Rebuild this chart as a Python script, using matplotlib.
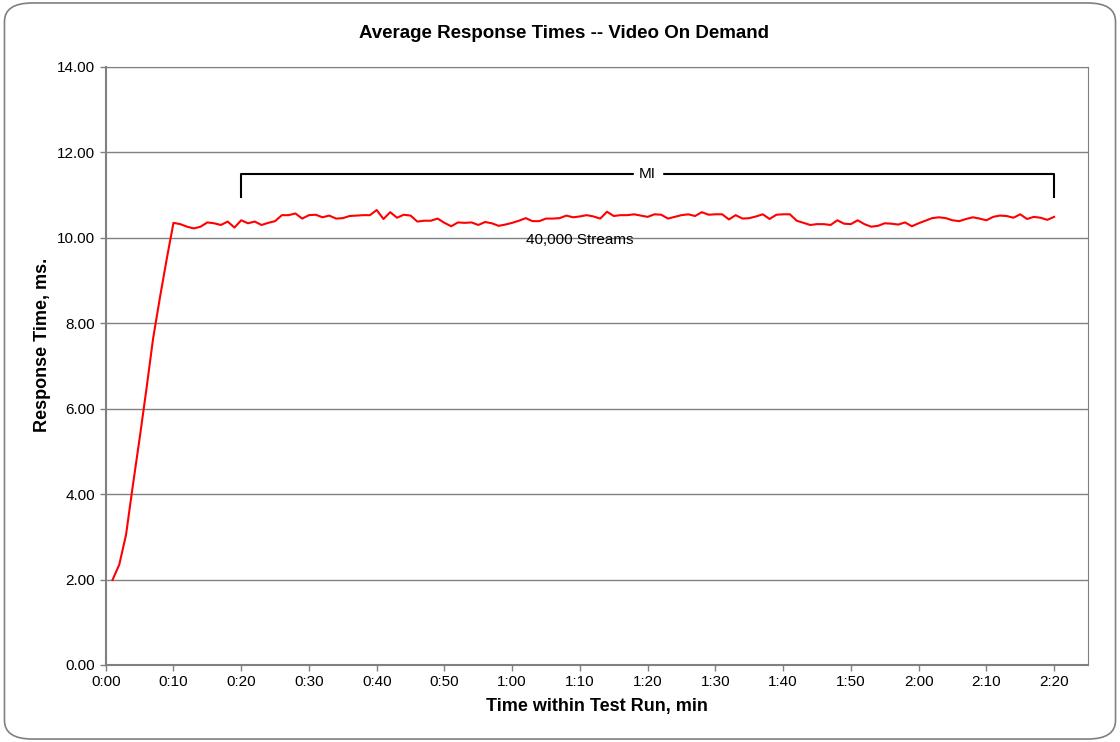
import numpy as np
import matplotlib.pyplot as plt
from matplotlib.patches import FancyBboxPatch

plt.rcParams['font.family'] = ['Liberation Sans', 'DejaVu Sans']

# Data: one sample per minute (t = 1..140)
minutes = np.arange(1, 141)
resp_ms = [
    1.99, 2.35, 3.05, 4.20, 5.30, 6.45, 7.65, 8.60, 9.50, 10.35,
    10.32, 10.26, 10.22, 10.26, 10.36, 10.34, 10.30, 10.38, 10.24, 10.41,
    10.34, 10.38, 10.30, 10.35, 10.39, 10.53, 10.53, 10.57, 10.45, 10.53,
    10.54, 10.48, 10.52, 10.45, 10.46, 10.51, 10.52, 10.53, 10.53, 10.65,
    10.44, 10.60, 10.47, 10.54, 10.52, 10.38, 10.40, 10.40, 10.45, 10.35,
    10.27, 10.36, 10.35, 10.36, 10.30, 10.37, 10.34, 10.28, 10.31, 10.35,
    10.40, 10.46, 10.39, 10.39, 10.45, 10.45, 10.46, 10.52, 10.48, 10.50,
    10.53, 10.50, 10.45, 10.61, 10.51, 10.53, 10.53, 10.55, 10.52, 10.49,
    10.55, 10.54, 10.45, 10.49, 10.53, 10.55, 10.51, 10.60, 10.54, 10.55,
    10.55, 10.43, 10.53, 10.45, 10.46, 10.50, 10.55, 10.44, 10.54, 10.55,
    10.55, 10.40, 10.35, 10.30, 10.32, 10.32, 10.30, 10.41, 10.33, 10.32,
    10.41, 10.32, 10.26, 10.28, 10.34, 10.33, 10.31, 10.36, 10.27, 10.34,
    10.40, 10.46, 10.48, 10.46, 10.41, 10.39, 10.44, 10.48, 10.45, 10.41,
    10.49, 10.52, 10.51, 10.47, 10.55, 10.44, 10.49, 10.47, 10.42, 10.49,
]
x_ticks = np.arange(0, 141, 10)
x_labels = ["%d:%02d" % (m // 60, m % 60) for m in x_ticks]
y_ticks = np.arange(0, 14.1, 2)

mi_start, mi_end = 20, 140
series_label = "40,000 Streams"

fig = plt.figure(figsize=(11.2, 7.42), dpi=100)

# rounded chart border
border = FancyBboxPatch((0.004, 0.004), 0.992, 0.992,
                        boxstyle="round,pad=0,rounding_size=0.025",
                        transform=fig.transFigure, fill=False,
                        edgecolor='#808080', linewidth=1.2)
fig.patches.append(border)

ax = fig.add_axes([0.0944, 0.1038, 0.877, 0.806])
ax.plot(minutes, resp_ms, color='#ff0000', linewidth=1.5)

ax.set_xlim(0, 145)
ax.set_ylim(0, 14)
ax.set_xticks(x_ticks)
ax.set_xticklabels(x_labels)
ax.set_yticks(y_ticks)
ax.set_yticklabels(["%.2f" % v for v in y_ticks])
ax.yaxis.grid(True, color='#808080', linewidth=1)
ax.set_axisbelow(True)
for s in ax.spines.values():
    s.set_color('#808080')
ax.spines['left'].set_linewidth(1.5)
ax.spines['bottom'].set_linewidth(1.5)
ax.tick_params(axis='both', colors='#808080', labelcolor='black',
               labelsize=11, length=4, width=1)

fig.text(0.504, 0.955, "Average Response Times -- Video On Demand",
         ha='center', va='center', fontsize=13.5, fontweight='bold')
ax.set_xlabel("Time within Test Run, min", fontsize=13, fontweight='bold', labelpad=6)
ax.set_ylabel("Response Time, ms.", fontsize=13, fontweight='bold')
ax.yaxis.set_label_coords(-0.056, 0.535)

# measurement interval bracket
ax.plot([mi_start, mi_start, mi_end, mi_end], [10.96, 11.5, 11.5, 10.96],
        color='black', linewidth=1.5)
ax.text((mi_start + mi_end) / 2, 11.5, "MI", ha='center', va='center',
        fontsize=11, backgroundcolor='white')
ax.text(70, 9.95, series_label, ha='center', va='center', fontsize=11)

fig.savefig("out.png", dpi=100)
